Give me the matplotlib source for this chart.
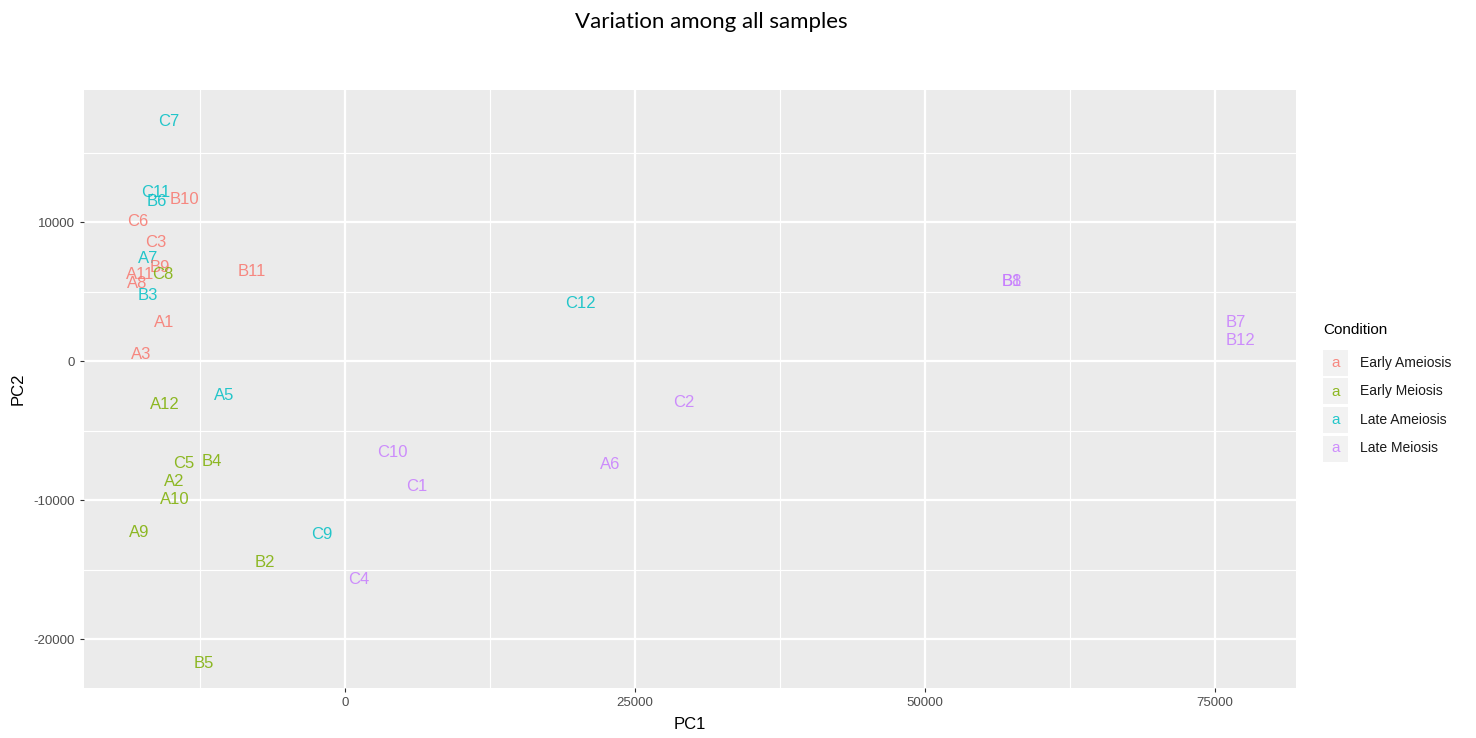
import numpy as np
import matplotlib.pyplot as plt
from matplotlib.patches import Rectangle

# sample labels, PCA coordinates, condition
labels = ['C7', 'C11', 'B6', 'B10', 'C6', 'C3', 'A7', 'B9', 'A11', 'C8', 'A8', 'B3',
          'A1', 'A3', 'B11', 'A5', 'A12', 'C5', 'B4', 'A2', 'A10', 'A9', 'B2', 'C9',
          'C4', 'B5', 'C10', 'C1', 'A6', 'C2', 'C12', 'B1', 'B8', 'B7', 'B12']
pc1 = [-15200, -16300, -16200, -13800, -17900, -16300, -17000, -16000, -17700, -15700,
       -17900, -17000, -15600, -17600, -8000, -10400, -15500, -13900, -11500, -14700,
       -14700, -17700, -6900, -2000, 1200, -12200, 4100, 6200, 22900, 29200,
       20300, 57500, 57500, 76800, 77200]
pc2 = [17200, 12150, 11500, 11650, 10050, 8550, 7400, 6750, 6200, 6200,
       5600, 4700, 2800, 450, 6450, -2450, -3150, -7350, -7200, -8650,
       -9950, -12300, -14450, -12450, -15700, -21750, -6600, -9000, -7400, -2950,
       4150, 5700, 5700, 2800, 1500]
condition = ['Late Ameiosis', 'Late Ameiosis', 'Late Ameiosis', 'Early Ameiosis', 'Early Ameiosis',
             'Early Ameiosis', 'Late Ameiosis', 'Early Ameiosis', 'Early Ameiosis', 'Early Meiosis',
             'Early Ameiosis', 'Late Ameiosis', 'Early Ameiosis', 'Early Ameiosis', 'Early Ameiosis',
             'Late Ameiosis', 'Early Meiosis', 'Early Meiosis', 'Early Meiosis', 'Early Meiosis',
             'Early Meiosis', 'Early Meiosis', 'Early Meiosis', 'Late Ameiosis', 'Late Meiosis',
             'Early Meiosis', 'Late Meiosis', 'Late Meiosis', 'Late Meiosis', 'Late Meiosis',
             'Late Ameiosis', 'Late Meiosis', 'Late Meiosis', 'Late Meiosis', 'Late Meiosis']

groups = ['Early Ameiosis', 'Early Meiosis', 'Late Ameiosis', 'Late Meiosis']
colors = {'Early Ameiosis': '#F8766D', 'Early Meiosis': '#7CAE00',
          'Late Ameiosis': '#00BFC4', 'Late Meiosis': '#C77CFF'}

x_ticks = [0, 25000, 50000, 75000]
y_ticks = [-20000, -10000, 0, 10000]

plt.rcParams['font.family'] = ['Liberation Sans', 'DejaVu Sans']

fig = plt.figure(figsize=(14.76, 7.38), dpi=100)
ax = fig.add_axes([84 / 1476, 50 / 738, 1212 / 1476, 598 / 738])
ax.set_facecolor('#EBEBEB')

for lab, x, y, c in zip(labels, pc1, pc2, condition):
    ax.text(x, y, lab, color=colors[c], fontsize=12, ha='center', va='center', alpha=0.85)

ax.set_xlim(-22500, 82000)
ax.set_ylim(-23500, 19500)
ax.set_xticks(x_ticks)
ax.set_xticklabels([str(t) for t in x_ticks])
ax.set_yticks(y_ticks)
ax.set_yticklabels([str(t) for t in y_ticks])
ax.set_xticks([-12500, 12500, 37500, 62500], minor=True)
ax.set_yticks([-15000, -5000, 5000, 15000], minor=True)
ax.grid(which='major', color='white', linewidth=1.6)
ax.grid(which='minor', color='white', linewidth=0.8)
ax.set_axisbelow(True)
for s in ax.spines.values():
    s.set_visible(False)
ax.tick_params(which='major', length=3, color='#333333', labelsize=9.5, labelcolor='#4D4D4D')
ax.tick_params(which='minor', length=0)
ax.set_xlabel('PC1', fontsize=12, labelpad=6)
ax.set_ylabel('PC2', fontsize=12, labelpad=6)

fig.text(711 / 1476, 1 - 22 / 738, 'Variation among all samples', fontsize=16,
         ha='center', va='center', family=['Lato', 'DejaVu Sans'])

# legend drawn by hand in ggplot style
fig.text(1323 / 1476, 1 - 330 / 738, 'Condition', fontsize=11, ha='left', va='center')
for i, g in enumerate(groups):
    yc = 363 + i * 28.5
    fig.patches.append(Rectangle(((1323) / 1476, 1 - (yc + 13) / 738), 25 / 1476, 26 / 738,
                                 transform=fig.transFigure, facecolor='#F2F2F2', edgecolor='none'))
    fig.text(1335.5 / 1476, 1 - yc / 738, 'a', color=colors[g], fontsize=11,
             ha='center', va='center', alpha=0.85)
    fig.text(1360 / 1476, 1 - yc / 738, g, fontsize=10, ha='left', va='center', color='#1A1A1A')

fig.savefig('out.png', dpi=100)
